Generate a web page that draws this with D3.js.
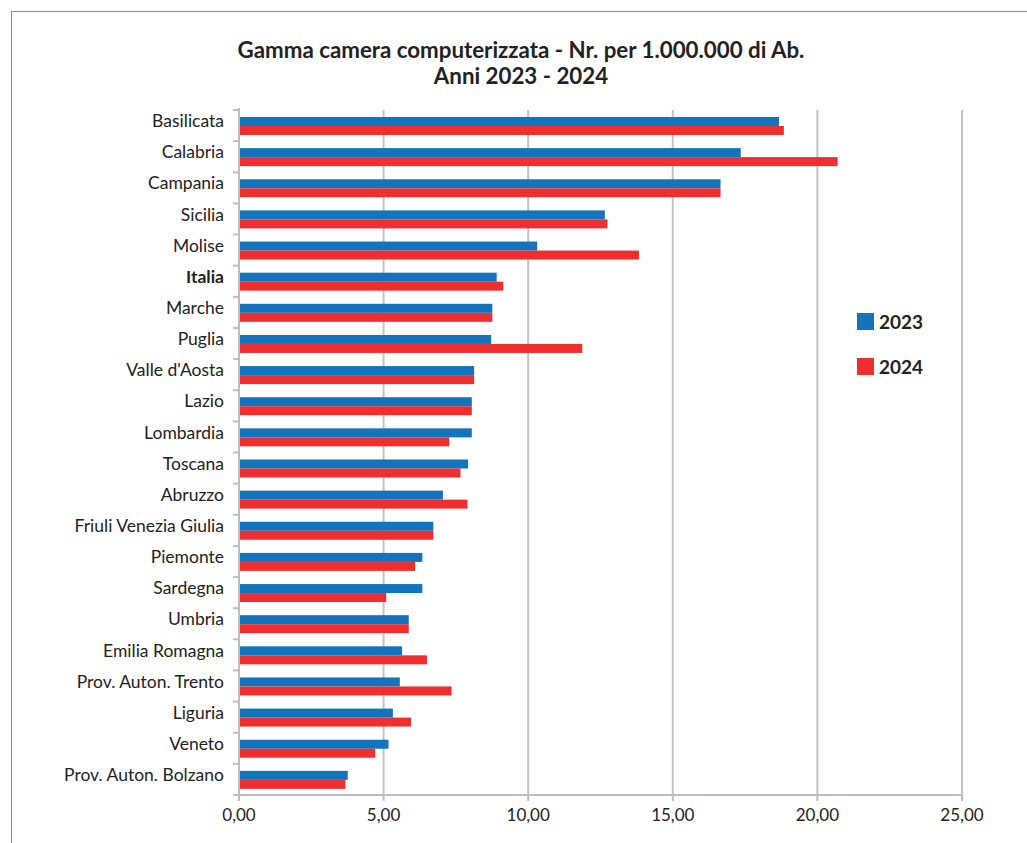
<!DOCTYPE html>
<html>
<head>
<meta charset="utf-8">
<script src="https://cdn.jsdelivr.net/npm/d3@7"></script>
<style>
  body { margin: 0; background: #fff; }
  svg { display: block; font-family: "Lato", "Open Sans", sans-serif; }
</style>
</head>
<body>
<svg id="chart" width="1027" height="843"></svg>
<script>
// regions, top to bottom
var regions = ["Basilicata", "Calabria", "Campania", "Sicilia", "Molise", "Italia", "Marche", "Puglia",
  "Valle d'Aosta", "Lazio", "Lombardia", "Toscana", "Abruzzo", "Friuli Venezia Giulia", "Piemonte",
  "Sardegna", "Umbria", "Emilia Romagna", "Prov. Auton. Trento", "Liguria", "Veneto", "Prov. Auton. Bolzano"]

var values2023 = [18.67, 17.35, 16.65, 12.65, 10.31, 8.91, 8.76, 8.72, 8.13, 8.05, 8.05, 7.92, 7.05, 6.72, 6.34,
  6.34, 5.87, 5.64, 5.56, 5.32, 5.17, 3.76]
var values2024 = [18.84, 20.70, 16.65, 12.74, 13.83, 9.14, 8.76, 11.87, 8.13, 8.05, 7.27, 7.66, 7.90, 6.72, 6.09,
  5.09, 5.87, 6.50, 7.35, 5.95, 4.71, 3.68]

var seriesNames = ["2023", "2024"]
var seriesColors = ["#1174BD", "#EF2F2F"]
var xTicks = [0, 5, 10, 15, 20, 25]
var titleLines = ["Gamma camera computerizzata - Nr. per 1.000.000 di Ab.", "Anni 2023 - 2024"]

var svg = d3.select("#chart")

// outer frame (runs past the right and bottom edges)
svg.append("rect")
    .attr("x", 11.5).attr("y", 11.5)
    .attr("width", 1040).attr("height", 860)
    .attr("fill", "none")
    .attr("stroke", "#8a8a8a")
    .attr("stroke-width", 1)

var plotLeft = 239, plotRight = 962, plotTop = 110, plotBottom = 795

var x = d3.scaleLinear().domain([0, 25]).range([plotLeft, plotRight])
var y = d3.scaleBand().domain(regions).range([plotTop, plotBottom]).paddingInner(0).paddingOuter(0)
// bar pair sits a little below the band centre, like the original
var inner = d3.scaleBand().domain(seriesNames).range([7, 25]).paddingInner(0).paddingOuter(0)

// gridlines
svg.append("g")
    .selectAll("line")
    .data(xTicks.filter(function(d){ return d > 0 }))
    .enter()
        .append("line")
        .attr("x1", function(d){ return x(d) })
        .attr("x2", function(d){ return x(d) })
        .attr("y1", plotTop)
        .attr("y2", plotBottom)
        .attr("stroke", "#c4c4c6")
        .attr("stroke-width", 2)

// bars
var rows = regions.map(function(r, i){ return {region: r, vals: [values2023[i], values2024[i]]} })

var groups = svg.append("g")
    .selectAll("g")
    .data(rows)
    .enter()
        .append("g")
        .attr("transform", function(d){ return "translate(0," + y(d.region) + ")" })

groups.selectAll("rect")
    .data(function(d){ return d.vals.map(function(v, k){ return {key: seriesNames[k], value: v, color: seriesColors[k]} }) })
    .enter()
        .append("rect")
        .attr("x", x(0))
        .attr("y", function(d){ return inner(d.key) })
        .attr("width", function(d){ return x(d.value) - x(0) })
        .attr("height", inner.bandwidth())
        .attr("fill", function(d){ return d.color })

// y axis
var yAxis = svg.append("g")
yAxis.append("line")
    .attr("x1", plotLeft).attr("x2", plotLeft)
    .attr("y1", plotTop - 2).attr("y2", plotBottom)
    .attr("stroke", "#bdbdbf").attr("stroke-width", 2)
yAxis.selectAll(".tk")
    .data(regions.concat(["end"]))
    .enter()
        .append("line")
        .attr("x1", plotLeft - 6).attr("x2", plotLeft)
        .attr("y1", function(d, i){ return plotTop + i * y.step() })
        .attr("y2", function(d, i){ return plotTop + i * y.step() })
        .attr("stroke", "#bdbdbf").attr("stroke-width", 2)
yAxis.selectAll("text")
    .data(regions)
    .enter()
        .append("text")
        .attr("x", 224)
        .attr("y", function(d){ return y(d) + y.bandwidth() / 2 - 4.5 })
        .attr("dy", "0.35em")
        .attr("text-anchor", "end")
        .attr("font-size", 17.5)
        .attr("font-weight", function(d){ return d === "Italia" ? "bold" : "normal" })
        .attr("fill", "#222")
        .text(function(d){ return d })

// x axis
var xAxis = svg.append("g")
xAxis.append("line")
    .attr("x1", plotLeft - 1).attr("x2", plotRight + 1)
    .attr("y1", plotBottom).attr("y2", plotBottom)
    .attr("stroke", "#bdbdbf").attr("stroke-width", 2)
xAxis.selectAll(".tk")
    .data(xTicks)
    .enter()
        .append("line")
        .attr("x1", function(d){ return x(d) })
        .attr("x2", function(d){ return x(d) })
        .attr("y1", plotBottom).attr("y2", plotBottom + 6)
        .attr("stroke", "#bdbdbf").attr("stroke-width", 2)
xAxis.selectAll("text")
    .data(xTicks)
    .enter()
        .append("text")
        .attr("x", function(d){ return x(d) })
        .attr("y", plotBottom + 20)
        .attr("dy", "0.35em")
        .attr("text-anchor", "middle")
        .attr("font-size", 17)
        .attr("fill", "#222")
        .text(function(d){ return d.toFixed(2).replace(".", ",") })

// title
svg.append("g")
    .selectAll("text")
    .data(titleLines)
    .enter()
        .append("text")
        .attr("x", 521)
        .attr("y", function(d, i){ return 50 + i * 26 })
        .attr("dy", "0.35em")
        .attr("text-anchor", "middle")
        .attr("font-size", 22.3)
        .attr("font-weight", "bold")
        .attr("fill", "#222")
        .text(function(d){ return d })

// legend
var legend = svg.append("g")
    .selectAll("g")
    .data(seriesNames)
    .enter()
        .append("g")
        .attr("transform", function(d, i){ return "translate(857," + (313 + i * 45) + ")" })
legend.append("rect")
    .attr("width", 17).attr("height", 17)
    .attr("fill", function(d, i){ return seriesColors[i] })
legend.append("text")
    .attr("x", 22).attr("y", 9)
    .attr("dy", "0.35em")
    .attr("font-size", 19)
    .attr("font-weight", "bold")
    .attr("fill", "#222")
    .text(function(d){ return d })
</script>
</body>
</html>
